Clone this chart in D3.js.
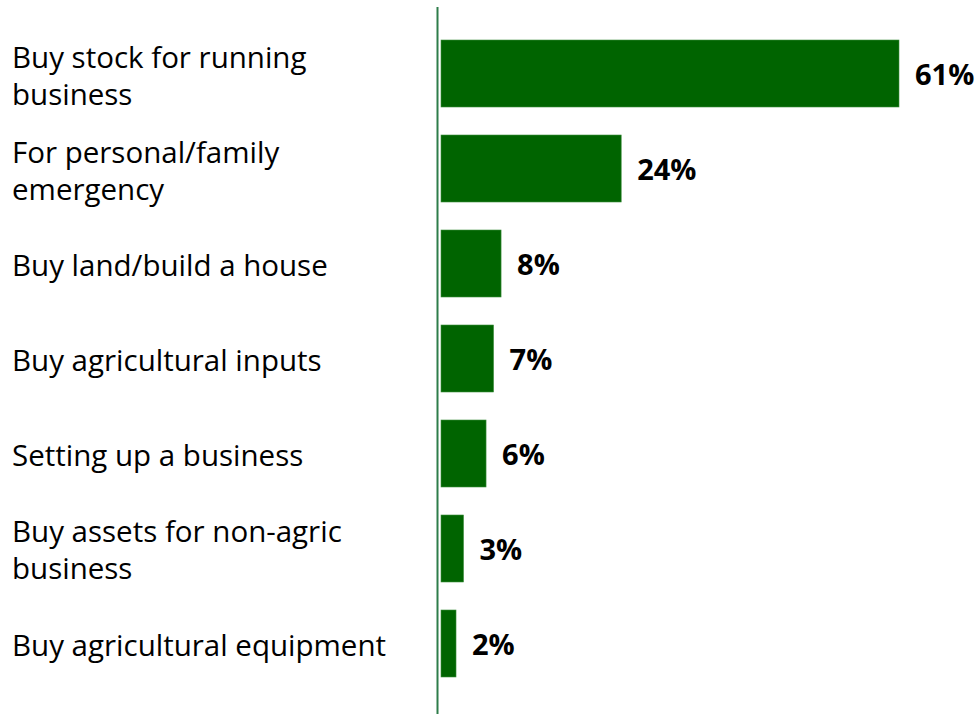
<!DOCTYPE html>
<html>
<head>
<meta charset="utf-8">
<script src="https://cdn.jsdelivr.net/npm/d3@7"></script>
<style>
  html, body { margin: 0; padding: 0; background: #ffffff; }
  svg { display: block; }
</style>
</head>
<body>
<svg id="chart" width="978" height="714"></svg>
<script>
// Reasons for taking the loan, share of respondents (%)
const categories = [
  ["Buy stock for running", "business"],
  ["For personal/family", "emergency"],
  ["Buy land/build a house"],
  ["Buy agricultural inputs"],
  ["Setting up a business"],
  ["Buy assets for non-agric", "business"],
  ["Buy agricultural equipment"]
];
const values = [61, 24, 8, 7, 6, 3, 2];
const valueLabels = ["61%", "24%", "8%", "7%", "6%", "3%", "2%"];

const width = 978, height = 714;
const svg = d3.select("#chart");

const labelFont = "'Open Sans', 'Noto Sans', sans-serif";

const x = d3.scaleLinear()
  .domain([0, 61])
  .range([441, 899]);

const y = d3.scaleBand()
  .domain(d3.range(values.length))
  .range([40, 677])
  .paddingInner(0.2947)
  .paddingOuter(0);

// bars
svg.append("g")
  .selectAll("rect")
  .data(values)
  .join("rect")
  .attr("x", x(0))
  .attr("y", (d, i) => y(i))
  .attr("width", d => x(d) - x(0))
  .attr("height", y.bandwidth())
  .attr("fill", "#006400")
  .attr("stroke", "#3f8f3f")
  .attr("stroke-width", 0.6);

// vertical axis line
svg.append("line")
  .attr("x1", 437.5).attr("x2", 437.5)
  .attr("y1", 7).attr("y2", height)
  .attr("stroke", "#2e7d4a")
  .attr("stroke-width", 2);

// category labels
const lineGap = 37;
const catG = svg.append("g")
  .attr("font-family", labelFont)
  .attr("font-size", 29.5)
  .attr("fill", "#000");

catG.selectAll("text")
  .data(categories)
  .join("text")
  .attr("x", 12)
  .attr("y", (d, i) => y(i) + y.bandwidth() / 2 + 12.5 - (d.length - 1) * lineGap / 2)
  .each(function(d) {
    d3.select(this).selectAll("tspan")
      .data(d)
      .join("tspan")
      .attr("x", 12)
      .attr("dy", (t, j) => j === 0 ? 0 : lineGap)
      .text(t => t);
  });

// value labels
svg.append("g")
  .attr("font-family", labelFont)
  .attr("font-size", 29)
  .attr("font-weight", "bold")
  .attr("fill", "#000")
  .selectAll("text")
  .data(values)
  .join("text")
  .attr("x", d => x(d) + 16)
  .attr("y", (d, i) => y(i) + y.bandwidth() / 2 + 11.5)
  .text((d, i) => valueLabels[i]);
</script>
</body>
</html>
